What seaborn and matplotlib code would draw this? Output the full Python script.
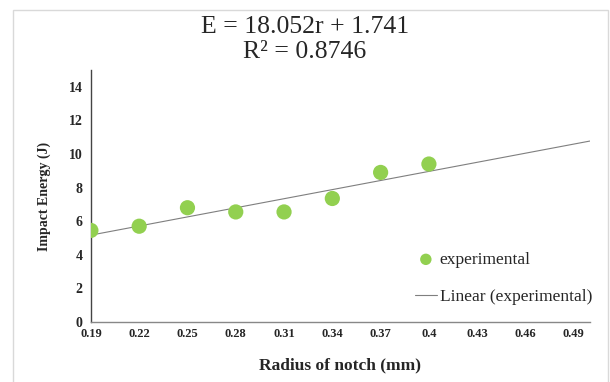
import matplotlib
matplotlib.use("Agg")
import matplotlib.pyplot as plt
import seaborn as sns
import numpy as np
import pandas as pd

# data
radius = [0.19, 0.22, 0.25, 0.28, 0.31, 0.34, 0.37, 0.40]
energy = [5.45, 5.70, 6.80, 6.55, 6.55, 7.35, 8.90, 9.40]
slope = 18.052
intercept = 1.741
fit_range = [0.19, 0.50]
x_ticks = [0.19, 0.22, 0.25, 0.28, 0.31, 0.34, 0.37, 0.4, 0.43, 0.46, 0.49]
x_ticklabels = ["0.19", "0.22", "0.25", "0.28", "0.31", "0.34", "0.37", "0.4", "0.43", "0.46", "0.49"]
y_ticks = [0, 2, 4, 6, 8, 10, 12, 14]

sns.set_style("white")
plt.rcParams["font.family"] = ["Liberation Serif", "DejaVu Serif"]

df = pd.DataFrame({"radius": radius, "energy": energy})
fit = pd.DataFrame({"radius": fit_range,
                    "energy": [slope * r + intercept for r in fit_range]})

fig = plt.figure(figsize=(6.1, 3.82), dpi=100)
ax = fig.add_axes([0.149, 0.157, 0.818, 0.66])

sns.lineplot(x="radius", y="energy", data=fit, ax=ax, color="#7f7f7f",
             linewidth=0.8, label="Linear (experimental)", zorder=2)
sns.scatterplot(x="radius", y="energy", data=df, ax=ax, color="#92d050",
                s=120, marker="o", edgecolor="none", label="experimental", zorder=3)

ax.set_xlim(0.19, 0.50)
ax.set_ylim(0, 15)
ax.set_xticks(x_ticks)
ax.set_xticklabels(x_ticklabels, fontsize=9, fontweight="bold")
ax.set_yticks(y_ticks)
ax.set_yticklabels([str(v) for v in y_ticks], fontsize=10, fontweight="bold")
ax.tick_params(axis="x", direction="inout", length=6, width=0.8, color="#555555", pad=1)
ax.tick_params(axis="y", direction="out", length=4, width=0.8, color="#555555", pad=2)

for s in ["top", "right"]:
    ax.spines[s].set_visible(False)
ax.spines["left"].set_color("#444444")
ax.spines["bottom"].set_color("#888888")
ax.spines["left"].set_linewidth(1.0)
ax.spines["bottom"].set_linewidth(1.0)

ax.set_xlabel("Radius of notch (mm)", fontsize=12.5, fontweight="bold", labelpad=13)
ax.set_ylabel("Impact Energy (J)", fontsize=10, fontweight="bold", labelpad=13)

fig.suptitle("E = 18.052r + 1.741\nR² = 0.8746", fontsize=18.5, y=0.958,
             linespacing=1.2)

handles, labels = ax.get_legend_handles_labels()
ax.legend(handles[::-1], labels[::-1], loc="lower left",
          bbox_to_anchor=(0.654, 0.161), bbox_transform=fig.transFigure,
          frameon=False, fontsize=12.5, labelspacing=1.2, handlelength=1.3,
          handletextpad=0.15, markerscale=0.75)

# thin frame around the whole figure
fig.patches.append(plt.Rectangle((0.021, -0.01), 0.976, 0.984, transform=fig.transFigure,
                                 fill=False, edgecolor="#d9d9d9", linewidth=1.0))

fig.savefig("out.png", dpi=100)
